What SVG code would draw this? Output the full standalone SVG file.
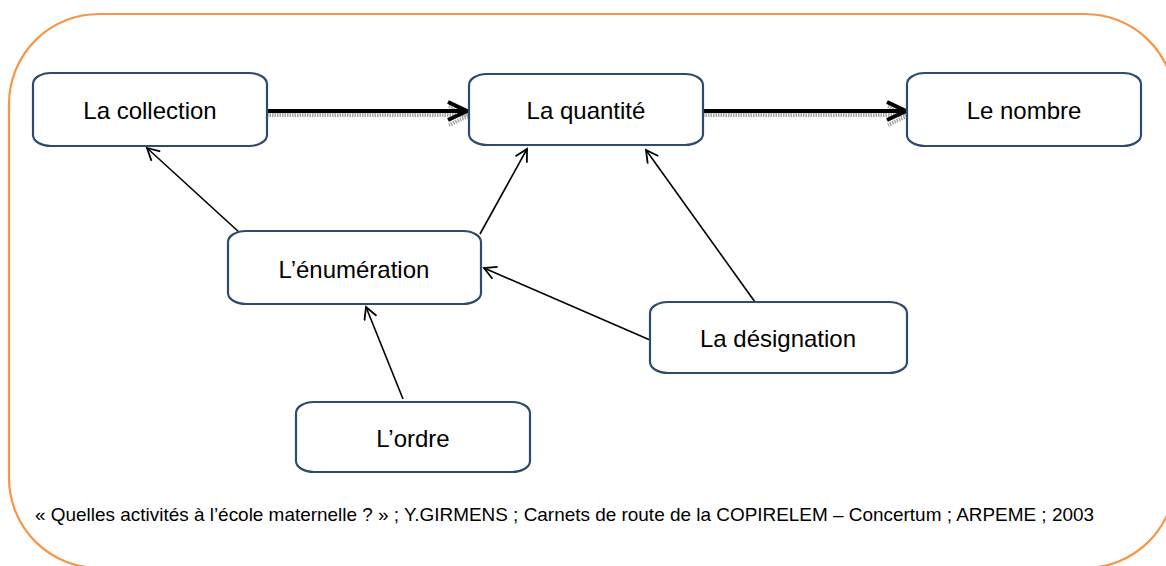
<svg xmlns="http://www.w3.org/2000/svg" width="1166" height="566" viewBox="0 0 1166 566">
  <style>
    .frame { fill: #ffffff; stroke: #F79646; stroke-width: 2.2; }
    .box { fill: #ffffff; stroke: #2E4A6E; stroke-width: 2.2; }
    .label { font-family: "Liberation Sans", Arial, sans-serif; font-size: 24px; fill: #000000; text-anchor: middle; }
    .caption { font-family: "Liberation Sans", Arial, sans-serif; font-size: 18.5px; fill: #000000; }
    .thin { fill: none; stroke: #000000; stroke-width: 1.6; marker-end: url(#openHead); }
    .thick { fill: none; stroke: #000000; stroke-width: 4; }
    .thickShadow { fill: none; stroke: #A8A8A8; stroke-width: 4; stroke-dasharray: 1.5 1; }
  </style>
  <defs>
    <marker id="openHead" markerWidth="16" markerHeight="16" refX="13" refY="7" orient="auto" markerUnits="userSpaceOnUse">
      <path d="M1,0.5 L13,7 L1,13.5" fill="none" stroke="#000000" stroke-width="1.8"/>
    </marker>
  </defs>

  <!-- outer frame -->
  <rect class="frame" x="9" y="14" width="1166" height="554" rx="90" ry="90"/>

  <!-- connectors -->
  <g id="connectors">
    <!-- thick arrows with drop shadow -->
    <path class="thickShadow" d="M267,115 L468,115 M449,106 L470,115 L449,125"/>
    <path class="thick" d="M267,111 L466,111 M448,102 L467,111 L448,120"/>
    <path class="thickShadow" d="M703,115 L905,115 M888,106 L909,115 L888,125"/>
    <path class="thick" d="M703,111 L904,111 M887,102 L906,111 L887,120"/>
    <!-- thin arrows -->
    <line class="thin" x1="240" y1="233" x2="147" y2="148"/>
    <line class="thin" x1="480" y1="234" x2="527" y2="149"/>
    <line class="thin" x1="755" y1="302" x2="646" y2="150"/>
    <line class="thin" x1="650" y1="340" x2="484" y2="268"/>
    <line class="thin" x1="403" y1="399" x2="366" y2="307"/>
  </g>

  <!-- nodes -->
  <g id="node-collection">
    <path class="box" d="M51,73 H249 A18,11 0 0 1 267,84 V135 A18,11 0 0 1 249,146 H51 A18,11 0 0 1 33,135 V84 A18,11 0 0 1 51,73 Z"/>
    <text class="label" x="150" y="119">La collection</text>
  </g>
  <g id="node-quantite">
    <path class="box" d="M487,74 H685 A18,11 0 0 1 703,85 V134 A18,11 0 0 1 685,145 H487 A18,11 0 0 1 469,134 V85 A18,11 0 0 1 487,74 Z"/>
    <text class="label" x="586" y="119">La quantité</text>
  </g>
  <g id="node-nombre">
    <path class="box" d="M925,73 H1123 A18,11 0 0 1 1141,84 V135 A18,11 0 0 1 1123,146 H925 A18,11 0 0 1 907,135 V84 A18,11 0 0 1 925,73 Z"/>
    <text class="label" x="1024" y="119">Le nombre</text>
  </g>
  <g id="node-enumeration">
    <path class="box" d="M246,231 H463 A18,11 0 0 1 481,242 V293 A18,11 0 0 1 463,304 H246 A18,11 0 0 1 228,293 V242 A18,11 0 0 1 246,231 Z"/>
    <text class="label" x="354" y="278">L’énumération</text>
  </g>
  <g id="node-designation">
    <path class="box" d="M668,302 H889 A18,11 0 0 1 907,313 V362 A18,11 0 0 1 889,373 H668 A18,11 0 0 1 650,362 V313 A18,11 0 0 1 668,302 Z"/>
    <text class="label" x="778" y="347">La désignation</text>
  </g>
  <g id="node-ordre">
    <path class="box" d="M314,402 H512 A18,11 0 0 1 530,413 V461 A18,11 0 0 1 512,472 H314 A18,11 0 0 1 296,461 V413 A18,11 0 0 1 314,402 Z"/>
    <text class="label" x="413" y="447">L’ordre</text>
  </g>

  <!-- source reference -->
  <text class="caption" x="35" y="521" textLength="1059" lengthAdjust="spacingAndGlyphs">« Quelles activités à l’école maternelle ? » ; Y.GIRMENS ; Carnets de route de la COPIRELEM – Concertum ; ARPEME ; 2003</text>
</svg>
